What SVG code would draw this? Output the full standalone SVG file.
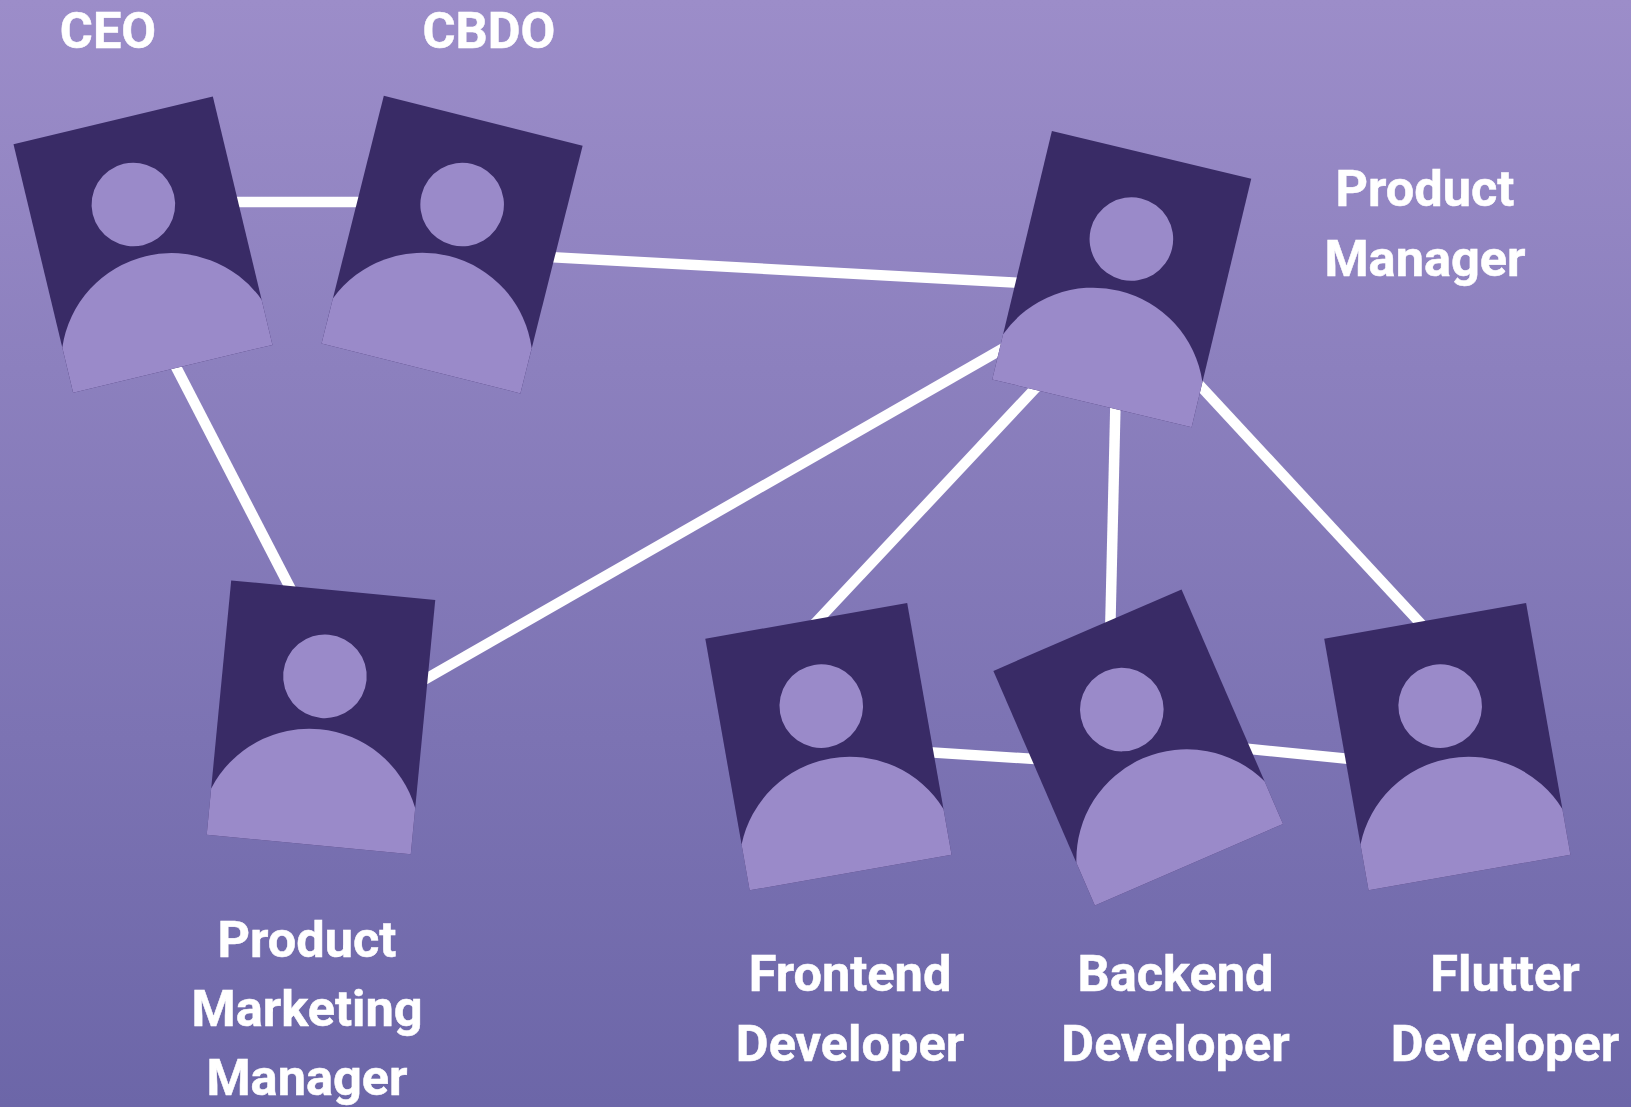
<svg xmlns="http://www.w3.org/2000/svg" width="1631" height="1107" viewBox="0 0 1631 1107">
<style>
.lbl{font-family:Roboto,"Liberation Sans",sans-serif;font-weight:700;font-size:50.5px;fill:#fff;stroke:#fff;stroke-width:.5;text-anchor:middle}
.conn{stroke:#fff;stroke-width:10.5;fill:none}
.dark{fill:#392b66}
.light{fill:#9a8ac9}
</style>
<defs>
<linearGradient id="bg" x1="0" y1="0" x2="0" y2="1"><stop offset="0" stop-color="#9c8dc9"/><stop offset="1" stop-color="#6c66a8"/></linearGradient>
<g id="card">
<rect class="dark" width="205" height="255.5"/>
<circle class="light" cx="102.5" cy="86.5" r="41.8"/>
<path class="light" d="M0 209A110.4 110.4 0 0 1 205 209V255.5H0Z"/>
</g>
</defs>
<rect width="1631" height="1107" fill="url(#bg)"/>
<g id="connectors">
<line class="conn" x1="200" y1="202" x2="380" y2="202"/>
<line class="conn" x1="530" y1="256" x2="1040" y2="284"/>
<line class="conn" x1="160" y1="336" x2="300" y2="607"/>
<line class="conn" x1="1030" y1="333" x2="410" y2="688"/>
<line class="conn" x1="1060" y1="362" x2="804" y2="635"/>
<line class="conn" x1="1116" y1="380" x2="1110" y2="640"/>
<line class="conn" x1="1180" y1="364" x2="1435" y2="639"/>
<line class="conn" x1="910" y1="751" x2="1050" y2="760"/>
<line class="conn" x1="1230" y1="747" x2="1360" y2="760"/>
</g>
<g id="ceo"><use href="#card" transform="translate(13.5 144.3) rotate(-13.5)"/><text class="lbl" x="108" y="47.5">CEO</text></g>
<g id="cbdo"><use href="#card" transform="translate(383.8 95.7) rotate(14.1)"/><text class="lbl" x="489" y="47.5">CBDO</text></g>
<g id="product-manager"><use href="#card" transform="translate(1051.9 131) rotate(13.5)"/><text class="lbl" x="1425" y="205.5">Product</text><text class="lbl" x="1425" y="275.5">Manager</text></g>
<g id="product-marketing-manager"><use href="#card" transform="translate(231.2 580.4) rotate(5.5)"/><text class="lbl" x="307" y="956.5">Product</text><text class="lbl" x="307" y="1025.5">Marketing</text><text class="lbl" x="307" y="1095">Manager</text></g>
<g id="frontend-developer"><use href="#card" transform="translate(705.3 638.7) rotate(-10)"/><text class="lbl" x="850" y="991">Frontend</text><text class="lbl" x="850" y="1061">Developer</text></g>
<g id="backend-developer"><use href="#card" transform="translate(993.4 670.9) rotate(-23.4)"/><text class="lbl" x="1175.5" y="991">Backend</text><text class="lbl" x="1175.5" y="1061">Developer</text></g>
<g id="flutter-developer"><use href="#card" transform="translate(1324.2 638.7) rotate(-10)"/><text class="lbl" x="1505" y="991">Flutter</text><text class="lbl" x="1505" y="1061">Developer</text></g>
</svg>
